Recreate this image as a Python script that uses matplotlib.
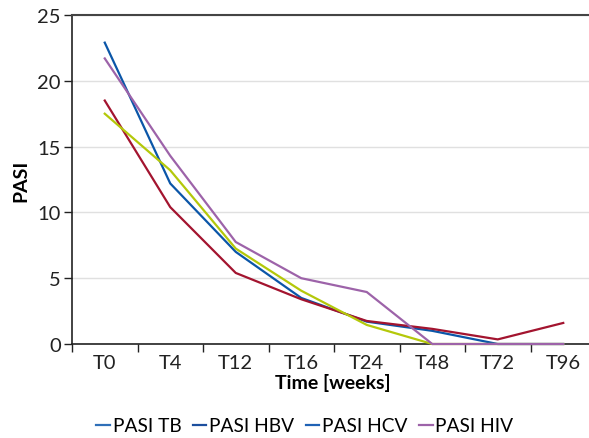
import numpy as np
import matplotlib.pyplot as plt
from matplotlib.lines import Line2D

plt.rcParams['font.family'] = ['Lato', 'DejaVu Sans']

times = ['T0', 'T4', 'T12', 'T16', 'T24', 'T48', 'T72', 'T96']
pasi_tb = [22.9, 12.2, 7.0, 3.5, 1.7, 1.0, 0.0, 0.0]
pasi_hbv = [18.5, 10.4, 5.4, 3.4, 1.75, 1.15, 0.35, 1.6]
pasi_hcv = [17.5, 13.2, 7.25, 4.05, 1.45, 0.0, 0.0, 0.0]
pasi_hiv = [21.7, 14.3, 7.75, 5.0, 3.95, 0.0, 0.0, 0.0]

line_colors = ['#0b56a8', '#a3142f', '#b4c80a', '#9d63a9']
legend_colors = ['#2f6fb8', '#1c4f9e', '#1f62b5', '#9d63a9']
names = ['PASI TB', 'PASI HBV', 'PASI HCV', 'PASI HIV']

fig = plt.figure(figsize=(5.89, 4.39), dpi=100)
ax = fig.add_axes([72 / 589, 1 - 345 / 439, 524 / 589, 329 / 439])

x = np.arange(len(times))
for vals, c in zip([pasi_tb, pasi_hbv, pasi_hcv, pasi_hiv], line_colors):
    ax.plot(x, vals, color=c, lw=1.6, solid_joinstyle='miter', clip_on=False, zorder=3)

ax.set_xlim(-0.5, len(times) - 0.5)
ax.set_ylim(0, 25)
ax.set_yticks([0, 5, 10, 15, 20, 25])
ax.yaxis.grid(True, color='#e0e0e0', lw=1)
ax.set_axisbelow(True)

ax.set_xticks(x)
ax.set_xticklabels(times)
ax.set_xticks(np.arange(len(times) + 1) - 0.5, minor=True)
ax.tick_params(axis='x', which='major', length=0, labelsize=14.5, pad=7, colors='#222222')
ax.tick_params(axis='x', which='minor', length=6, width=1, direction='out', color='#222222')
ax.tick_params(axis='y', length=6, width=1, direction='out', labelsize=14.5, colors='#222222', pad=2)

for s in ['left', 'bottom']:
    ax.spines[s].set_color('#222222')
    ax.spines[s].set_linewidth(1.2)
ax.spines['right'].set_visible(False)
ax.spines['top'].set_color('#444444')
ax.spines['top'].set_linewidth(1.5)

ax.set_ylabel('PASI', fontsize=14, fontweight='bold', labelpad=6)
fig.text(333 / 589, 1 - 383 / 439, 'Time [weeks]', ha='center', va='center',
         fontsize=14, fontweight='bold')

handles = [Line2D([0], [0], color=c, lw=1.6) for c in legend_colors]
fig.legend(handles, names, loc='center', bbox_to_anchor=(305 / 589, 1 - 427 / 439),
           ncol=4, frameon=False, fontsize=13.8, handlelength=0.7, handletextpad=0.15,
           columnspacing=0.6, borderpad=0)

fig.savefig('out.png', dpi=100)
